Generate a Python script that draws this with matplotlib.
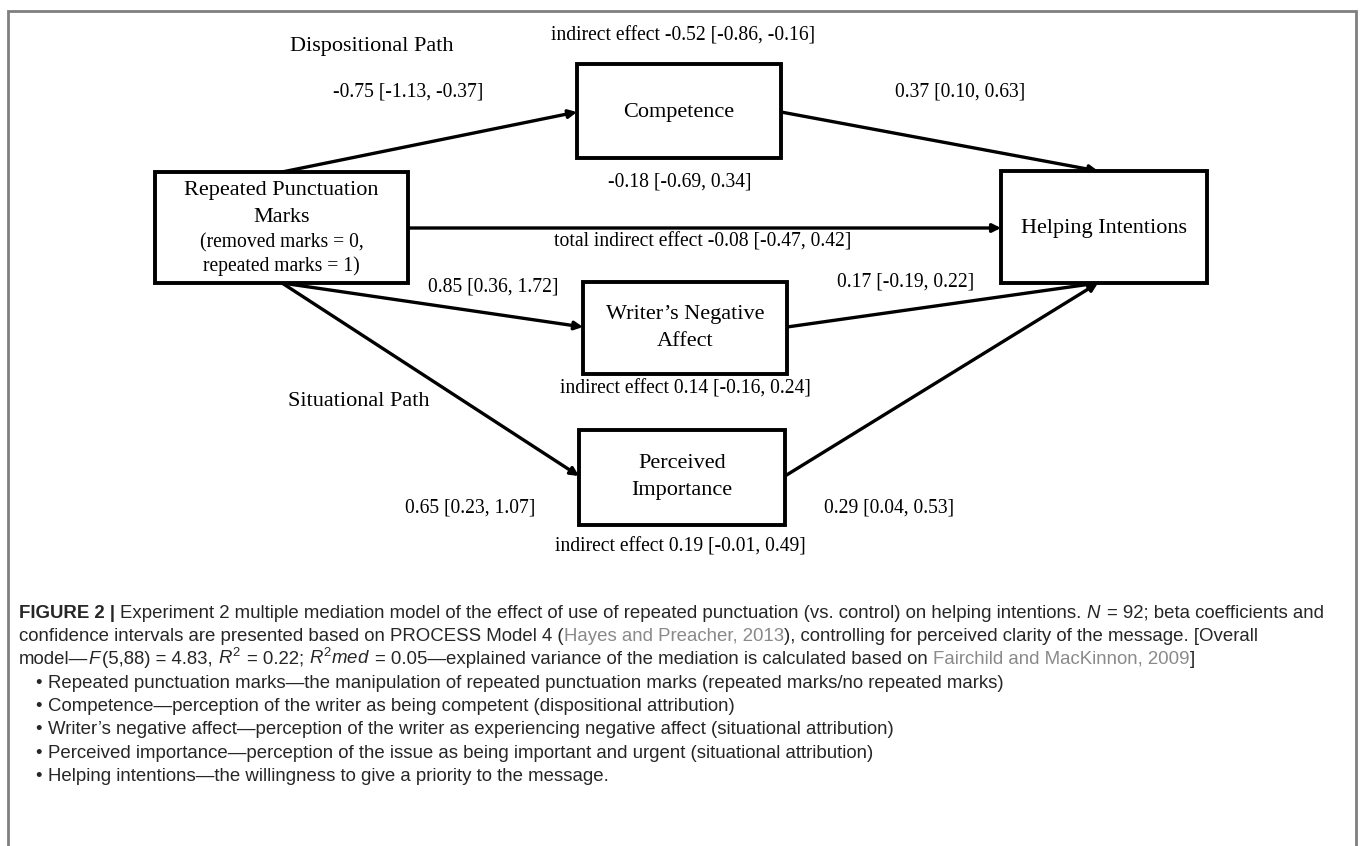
import matplotlib
matplotlib.use('Agg')
import matplotlib.pyplot as plt
from matplotlib.patches import Rectangle

plt.rcParams['mathtext.fontset'] = 'custom'
plt.rcParams['mathtext.rm'] = 'Liberation Sans'
plt.rcParams['mathtext.it'] = 'Liberation Sans:italic'

# node labels (one entry per box, lines split)
node_labels = [['Repeated Punctuation', 'Marks', '(removed marks = 0,', 'repeated marks = 1)'],
               ['Competence'],
               ['Writer\u2019s Negative', 'Affect'],
               ['Perceived', 'Importance'],
               ['Helping Intentions']]

# path coefficients [CI]
path_labels = ['-0.75 [-1.13, -0.37]', '0.37 [0.10, 0.63]', '0.85 [0.36, 1.72]',
               '0.17 [-0.19, 0.22]', '0.65 [0.23, 1.07]', '0.29 [0.04, 0.53]',
               '-0.18 [-0.69, 0.34]']
indirect_labels = ['indirect effect -0.52 [-0.86, -0.16]',
                   'indirect effect 0.14 [-0.16, 0.24]',
                   'indirect effect 0.19 [-0.01, 0.49]',
                   'total indirect effect -0.08 [-0.47, 0.42]']
path_names = ['Dispositional Path', 'Situational Path']

bullets = ['Repeated punctuation marks\u2014the manipulation of repeated punctuation marks (repeated marks/no repeated marks)',
           'Competence\u2014perception of the writer as being competent (dispositional attribution)',
           'Writer\u2019s negative affect\u2014perception of the writer as experiencing negative affect (situational attribution)',
           'Perceived importance\u2014perception of the issue as being important and urgent (situational attribution)',
           'Helping intentions\u2014the willingness to give a priority to the message.']

# layout in pixels (x0, y0, x1, y1), y downward
boxes = [(155, 172, 408, 283), (577, 64, 781, 158), (583, 282, 787, 374),
         (579, 430, 785, 525), (1001, 171, 1207, 283)]
node_line_y = [[191, 218, 243, 266], [112], [314, 342], [463, 491], [228]]
arrows = [((282, 172), (577, 112)), ((781, 112), (1098, 171)), ((408, 228), (1001, 228)),
          ((282, 283), (583, 327)), ((282, 283), (579, 476)), ((787, 327), (1098, 283)),
          ((785, 476), (1098, 283))]
path_pos = [(408, 92), (960, 92), (493, 287), (906, 282), (470, 508), (889, 508), (680, 182)]
ind_pos = [(683, 36), (685, 389), (680, 547), (703, 242)]
name_pos = [(372, 47), (359, 401)]

fig = plt.figure(figsize=(13.6, 8.46), dpi=100)
ax = fig.add_axes([0, 0, 1, 1])
ax.set_xlim(0, 1360)
ax.set_ylim(846, 0)
ax.axis('off')

serif = 'Liberation Serif'
fs_node = 16
fs_lab = 14.1

# frame (open at the bottom)
ax.plot([8, 8, 1356, 1356], [846, 11, 11, 846], color='#7f7f7f', lw=2, solid_joinstyle='miter')

for (x0, y0, x1, y1) in boxes:
    ax.add_patch(Rectangle((x0, y0), x1 - x0, y1 - y0, fill=True, fc='white', ec='black', lw=2.8, zorder=3))

for (a, b) in arrows:
    ax.annotate('', xy=b, xytext=a,
                arrowprops=dict(arrowstyle='-|>', color='black', lw=2.4, mutation_scale=12,
                                shrinkA=0, shrinkB=0), zorder=2)

# node texts
for i, (lines, ys, (x0, y0, x1, y1)) in enumerate(zip(node_labels, node_line_y, boxes)):
    for j, (s, y) in enumerate(zip(lines, ys)):
        size = fs_lab if (i == 0 and j >= 2) else fs_node
        ax.text((x0 + x1) / 2, y, s, ha='center', va='center', family=serif, fontsize=size, zorder=4)

for lab, (x, y) in zip(path_labels, path_pos):
    ax.text(x, y, lab, ha='center', va='center', family=serif, fontsize=fs_lab)
for lab, (x, y) in zip(indirect_labels, ind_pos):
    ax.text(x, y, lab, ha='center', va='center', family=serif, fontsize=fs_lab)
for lab, (x, y) in zip(path_names, name_pos):
    ax.text(x, y, lab, ha='center', va='center', family=serif, fontsize=fs_node)

# caption
renderer = fig.canvas.get_renderer()
cap = 'Liberation Sans'
cfs = 13.4
ink = '#262626'
link = '#8a8a8a'


def width(s, **kw):
    t = ax.text(0, 0, s, fontsize=cfs, family=cap, **kw)
    w = t.get_window_extent(renderer).width
    t.remove()
    return w


space_w = width('a a') - width('aa')


def runs(x, y, parts):
    for s, kw in parts:
        lead = len(s) - len(s.lstrip(' '))
        trail = len(s) - len(s.rstrip(' '))
        x += lead * space_w
        core = s.strip(' ')
        if core:
            t = ax.text(x, y, core, fontsize=cfs, family=cap, va='baseline', ha='left',
                        color=kw.get('color', ink), fontweight=kw.get('weight', 'normal'))
            x += t.get_window_extent(renderer).width
        x += trail * space_w


cx = 19
runs(cx, 618, [('FIGURE 2 | ', {'weight': 'bold'}),
               ('Experiment 2 multiple mediation model of the effect of use of repeated punctuation (vs. control) on helping intentions. ', {}),
               ('$N$', {}), (' = 92; beta coefficients and', {})])
runs(cx, 641, [('confidence intervals are presented based on PROCESS Model 4 (', {}),
               ('Hayes and Preacher, 2013', {'color': link}),
               ('), controlling for perceived clarity of the message. [Overall', {})])
runs(cx, 664, [('model\u2014', {}), ('$F$', {}), ('(5,88) = 4.83, ', {}), ('$R^2$', {}),
               (' = 0.22; ', {}), ('$R^2 med$', {}),
               (' = 0.05\u2014explained variance of the mediation is calculated based on ', {}),
               ('Fairchild and MacKinnon, 2009', {'color': link}), (']', {})])
for i, b in enumerate(bullets):
    y = 688 + i * 23.2
    ax.text(35, y, '\u2022', fontsize=cfs, family=cap, color=ink, va='baseline', ha='left')
    runs(48, y, [(b, {})])

fig.savefig('out.png', dpi=100)
